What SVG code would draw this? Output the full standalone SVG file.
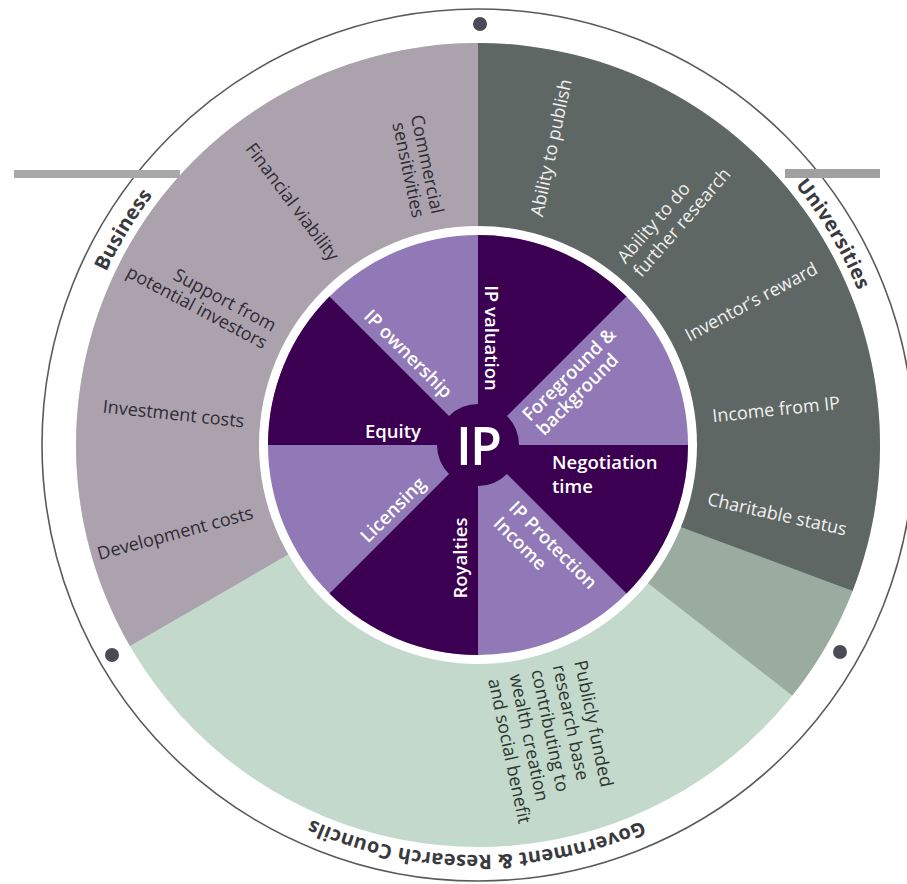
<svg xmlns="http://www.w3.org/2000/svg" width="907" height="884" viewBox="0 0 907 884">
<defs>
<style>
.ring{font-family:"Open Sans","Liberation Sans",sans-serif;font-size:18px;dominant-baseline:central}
.dk{fill:#2f2b33}
.wt{fill:#f0f0f0}
.gn{fill:#2c3530}
.inner{font-family:"Open Sans","Liberation Sans",sans-serif;font-size:18.5px;font-weight:600;fill:#ffffff;dominant-baseline:central}
.lbl{font-family:"Open Sans","Liberation Sans",sans-serif;font-size:20px;font-weight:700;fill:#3a3a3e;letter-spacing:0.3px}
.dot{fill:#4b4b57}
.dark{fill:#3b0051}
.light{fill:#9178b6}
</style>
<path id="labelArc" d="M 68,445 A 410,410 0 1,1 888,445 A 410,410 0 1,1 68,445" fill="none"/>
</defs>
<rect width="907" height="884" fill="#ffffff"/>

<g id="outer-ring">
<circle cx="478" cy="445" r="436" fill="#ffffff" stroke="#5a5a5a" stroke-width="1.6"/>
<circle class="dot" cx="480" cy="24" r="7"/>
<circle class="dot" cx="112" cy="655" r="7"/>
<circle class="dot" cx="840" cy="652" r="7"/>
<text class="lbl" text-anchor="middle"><textPath href="#labelArc" startOffset="8.69%">Business</textPath></text>
<text class="lbl" text-anchor="middle"><textPath href="#labelArc" startOffset="41.47%">Universities</textPath></text>
<text class="lbl" text-anchor="middle"><textPath href="#labelArc" startOffset="75.06%">Government &amp; Research Councils</textPath></text>
</g>

<g id="sector-government">
<circle cx="478" cy="445" r="402" fill="#c3d9cb"/>
<path d="M 500,468 L 792.3,695.5 A 402,402 0 0,0 852.6,590.9 L 500,460 Z" fill="#9aab9f"/>
</g>
<g id="sector-universities">
<path d="M 478,445 L 478,43 A 402,402 0 0,1 852.6,590.9 L 500,460 Z" fill="#5f6764"/>
</g>
<g id="sector-business">
<path d="M 478,445 L 129.9,646 A 402,402 0 0,1 478,43 Z" fill="#aba2ae"/>
</g>

<g id="glitch">
<rect x="14" y="170" width="166" height="8" fill="#a8a8a8"/>
<rect x="785" y="169" width="95" height="9" fill="#a0a0a0"/>
</g>

<g id="business-texts">
<g transform="translate(478,445) rotate(78)">
<text x="-235" y="-9.5" text-anchor="end" class="ring dk">Commercial</text>
<text x="-235" y="10" text-anchor="end" class="ring dk">sensitivities</text>
</g>
<g transform="translate(478,445) rotate(53)">
<text x="-235" y="1" text-anchor="end" class="ring dk">Financial viability</text>
</g>
<g transform="translate(478,445) rotate(28)">
<text x="-235" y="-10" text-anchor="end" class="ring dk">Support from</text>
<text x="-235" y="9.5" text-anchor="end" class="ring dk">potential investors</text>
</g>
<g transform="translate(478,445) rotate(6)">
<text x="-235" y="0" text-anchor="end" class="ring dk">Investment costs</text>
</g>
<g transform="translate(478,445) rotate(-15)">
<text x="-235" y="6" text-anchor="end" class="ring dk">Development costs</text>
</g>
</g>

<g id="university-texts">
<g transform="translate(478,445) rotate(-78)">
<text x="236" y="9" class="ring wt">Ability to publish</text>
</g>
<g transform="translate(478,445) rotate(-49)">
<text x="233" y="-14" class="ring wt">Ability to do</text>
<text x="233" y="7" class="ring wt">further research</text>
</g>
<g transform="translate(478,445) rotate(-28)">
<text x="235" y="1" class="ring wt">Inventor’s reward</text>
</g>
<g transform="translate(478,445) rotate(-6)">
<text x="236" y="-5" class="ring wt">Income from IP</text>
</g>
<g transform="translate(478,445) rotate(12.5)">
<text x="236" y="2" class="ring wt">Charitable status</text>
</g>
</g>

<g id="government-texts">
<g transform="translate(478,445) rotate(78)">
<text x="232" y="-56" class="ring gn">Publicly funded</text>
<text x="232" y="-34" class="ring gn">research base</text>
<text x="232" y="-12" class="ring gn">contributing to</text>
<text x="232" y="10" class="ring gn">wealth creation</text>
<text x="232" y="32" class="ring gn">and social benefit</text>
</g>
</g>

<circle id="white-gap" cx="478" cy="445" r="219" fill="#ffffff"/>

<g id="inner-wheel">
<circle class="light" cx="478" cy="445" r="210"/>
<g id="node-ip-valuation">
<path class="dark" d="M 478,445 L 478,235 A 210,210 0 0,1 626.5,296.5 Z"/>
<text class="inner" transform="translate(492,338) rotate(90)" text-anchor="middle">IP valuation</text>
</g>
<g id="node-foreground">
<g transform="translate(575,381) rotate(-45)">
<text class="inner" x="-61" y="-10">Foreground &amp;</text>
<text class="inner" x="-61" y="10">background</text>
</g>
</g>
<g id="node-negotiation">
<path class="dark" d="M 478,445 L 688,445 A 210,210 0 0,1 626.5,593.5 Z"/>
<text class="inner" x="552" y="461">Negotiation</text>
<text class="inner" x="552" y="485">time</text>
</g>
<g id="node-ip-protection">
<g transform="translate(535,541) rotate(45)">
<text class="inner" x="-42" y="-11">IP Protection</text>
<text class="inner" x="-42" y="11">Income</text>
</g>
</g>
<g id="node-royalties">
<path class="dark" d="M 478,445 L 478,655 A 210,210 0 0,1 329.5,593.5 Z"/>
<text class="inner" transform="translate(459,558) rotate(-90)" text-anchor="middle">Royalties</text>
</g>
<g id="node-licensing">
<text class="inner" transform="translate(392,509) rotate(-45)" text-anchor="middle">Licensing</text>
</g>
<g id="node-equity">
<path class="dark" d="M 478,445 L 268,445 A 210,210 0 0,1 329.5,296.5 Z"/>
<text class="inner" x="393" y="430" text-anchor="middle">Equity</text>
</g>
<g id="node-ip-ownership">
<text class="inner" transform="translate(409,353) rotate(45)" text-anchor="middle">IP ownership</text>
</g>
<g id="node-ip">
<circle class="dark" cx="478" cy="445" r="41"/>
<text x="478" y="444" text-anchor="middle" style="font-family:'Open Sans','Liberation Sans',sans-serif;font-size:52px;font-weight:600;fill:#ffffff;dominant-baseline:central;letter-spacing:-2px">IP</text>
</g>
</g>

<g id="connectors"/>
</svg>
